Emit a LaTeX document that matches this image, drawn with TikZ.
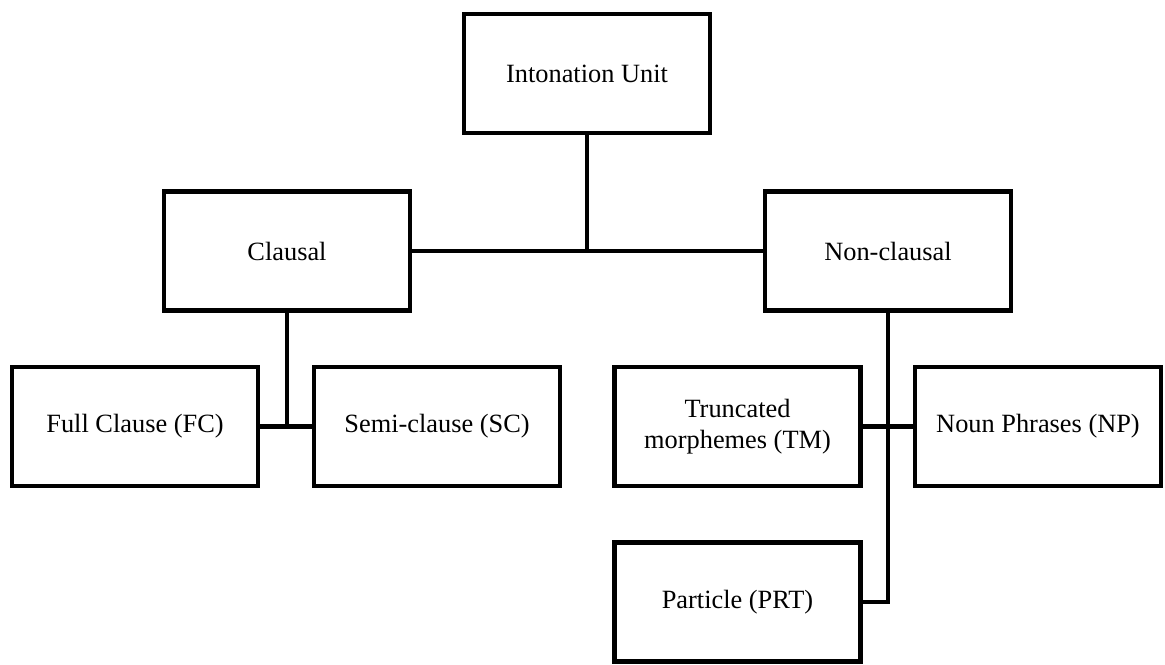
\documentclass[tikz,border=0pt]{standalone}
\usepackage{fontspec}
\setmainfont{Liberation Serif}
\usepackage{tikz}
\usetikzlibrary{positioning, calc}

\tikzset{
    unitbox/.style={draw, line width=2.3pt, minimum width=4.92cm, minimum height=2.38cm,
        inner sep=2pt, align=center, font=\fontsize{15}{18}\selectfont},
    branch/.style={line width=2.3pt}
}

\begin{document}
\begin{tikzpicture}
\useasboundingbox (0,0) rectangle (23.3,13.28);

% Top level
\node[unitbox] (iu) at (11.74,11.81) {Intonation Unit};

% Second level
\node[unitbox] (cl) at (5.74,8.26) {Clausal};
\node[unitbox] (ncl) at (17.76,8.26) {Non-clausal};

% Clausal types
\node[unitbox] (fc) at (2.70,4.75) {Full Clause (FC)};
\node[unitbox] (sc) at (8.74,4.75) {Semi-clause (SC)};

% Non-clausal types
\node[unitbox] (tm) at (14.75,4.75) {Truncated\\morphemes (TM)};
\node[unitbox] (np) at (20.76,4.75) {Noun Phrases (NP)};
\node[unitbox] (prt) at (14.75,1.24) {Particle (PRT)};

% Branches
\draw[branch] (iu.south) -- (iu.south |- cl.east);
\draw[branch] (cl.east) -- (ncl.west);
\draw[branch] (cl.south) -- (cl.south |- fc.east);
\draw[branch] (fc.east) -- (sc.west);
\draw[branch] (ncl.south) |- (prt.east);
\draw[branch] (tm.east) -- (np.west);
\end{tikzpicture}
\end{document}
